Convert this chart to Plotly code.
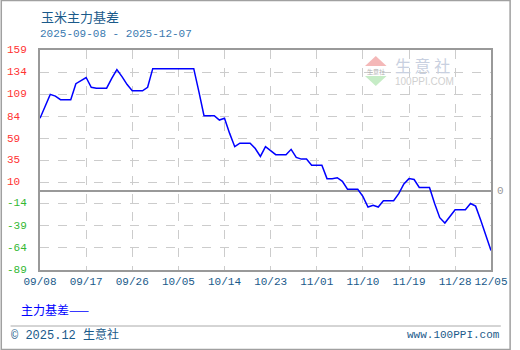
import pandas as pd
import plotly.graph_objects as go

# ---- data ----
start_date = "2025-09-08"
basis = [82, 96, 109, 107, 103, 103, 103, 121, 125, 128,
         117, 116, 116, 116, 127, 137, 129, 120, 113, 113,
         113, 117, 138, 138, 138, 138, 138, 138, 138, 138,
         138, 112, 85, 85, 85, 80, 82, 65, 50, 54,
         54, 54, 48, 39, 50, 46, 41, 41, 41, 47,
         38, 36, 36, 29, 29, 29, 14, 14, 15, 11,
         2, 2, 2, -6, -18, -16, -18, -11, -11, -11,
         -3, 8, 14, 13, 4, 4, 4, -14, -30, -36,
         -28, -21, -21, -21, -14, -17, -33, -50, -67]
y_ticks = [159, 134, 109, 84, 59, 35, 10, -14, -39, -64, -89]
x_tick_dates = ["2025-09-08", "2025-09-17", "2025-09-26", "2025-10-05", "2025-10-14",
                "2025-10-23", "2025-11-01", "2025-11-10", "2025-11-19", "2025-11-28",
                "2025-12-05"]
x_tick_labels = ["09/08", "09/17", "09/26", "10/05", "10/14", "10/23", "11/01",
                 "11/10", "11/19", "11/28", "12/05"]
title_text = "玉米主力基差"
subtitle_text = "2025-09-08 - 2025-12-07"
series_name = "主力基差"

dates = pd.date_range(start_date, periods=len(basis), freq="D")

W, H = 520, 350
L, R, T, B = 40, 20, 50, 80
PW, PH = W - L - R, H - T - B


def px(x):
    return (x - L) / PW


def py(y):
    return (H - B - y) / PH


fig = go.Figure()
fig.add_trace(go.Scatter(x=dates, y=basis, mode="lines",
                         line=dict(color="#0000ff", width=1.5),
                         name=series_name, hoverinfo="x+y"))

teal = "#1a5a8a"
fig.update_layout(
    width=W, height=H,
    margin=dict(l=L, r=R, t=T, b=B),
    paper_bgcolor="white", plot_bgcolor="white",
    showlegend=False,
    font=dict(family="Liberation Sans, Noto Sans CJK SC", size=11, color=teal),
)
fig.update_xaxes(
    range=[x_tick_dates[0], x_tick_dates[-1]],
    tickvals=x_tick_dates, ticktext=x_tick_labels, tickangle=0,
    showgrid=True, gridcolor="#cccccc", griddash="dash", gridwidth=1,
    showline=True, mirror=True, linecolor="#999999", linewidth=1.5,
    ticks="", ticklen=0,
    tickfont=dict(family="Liberation Mono, DejaVu Sans Mono", size=11, color=teal),
)
fig.update_yaxes(
    range=[y_ticks[-1], y_ticks[0]],
    tickvals=y_ticks, showticklabels=False,
    showgrid=True, gridcolor="#cccccc", griddash="dash", gridwidth=1,
    showline=True, mirror=True, linecolor="#999999", linewidth=1.5,
    zeroline=True, zerolinecolor="#999999", zerolinewidth=1.5,
)

ann = []
for v in y_ticks:
    ann.append(dict(x=px(4), xref="paper", y=v, yref="y", text=str(v),
                    xanchor="left", yanchor="middle", showarrow=False,
                    font=dict(family="Liberation Mono, DejaVu Sans Mono", size=11,
                              color="#ff3333" if v >= 0 else "#33b833")))
ann.append(dict(x=px(504), xref="paper", y=0, yref="y", text="0", xanchor="left",
                yanchor="middle", showarrow=False,
                font=dict(family="Liberation Mono", size=11, color="#999999")))
ann.append(dict(x=px(39), xref="paper", y=py(16), yref="paper", text=title_text,
                xanchor="left", yanchor="middle", showarrow=False,
                font=dict(family="Noto Sans CJK SC", size=13, color="#1a5a8a")))
ann.append(dict(x=px(38), xref="paper", y=py(34), yref="paper", text=subtitle_text,
                xanchor="left", yanchor="middle", showarrow=False,
                font=dict(family="Liberation Mono, DejaVu Sans Mono", size=11, color="#3a7ab0")))
ann.append(dict(x=px(19), xref="paper", y=py(309), yref="paper", text=series_name + "——",
                xanchor="left", yanchor="middle", showarrow=False,
                font=dict(family="Noto Sans CJK SC", size=12, color="#0000ff")))
ann.append(dict(x=px(8), xref="paper", y=py(335), yref="paper", text="© 2025.12 生意社",
                xanchor="left", yanchor="middle", showarrow=False,
                font=dict(family="Liberation Mono, Noto Sans CJK SC", size=12, color="#1a5a8a")))
ann.append(dict(x=px(511), xref="paper", y=py(335), yref="paper", text="www.100PPI.com",
                xanchor="right", yanchor="middle", showarrow=False,
                font=dict(family="Liberation Mono, DejaVu Sans Mono", size=11, color="#1a5a8a")))
# watermark
ann.append(dict(x=px(400), xref="paper", y=py(65), yref="paper", text="生 意 社",
                xanchor="left", yanchor="middle", showarrow=False,
                font=dict(family="Noto Sans CJK SC", size=16, color="#c8d0e0")))
ann.append(dict(x=px(400), xref="paper", y=py(81), yref="paper", text="100PPI.COM",
                xanchor="left", yanchor="middle", showarrow=False,
                font=dict(family="Liberation Sans", size=10, color="#d0d0d0")))
ann.append(dict(x=px(382.5), xref="paper", y=py(71), yref="paper", text="生意社",
                xanchor="center", yanchor="middle", showarrow=False,
                font=dict(family="Noto Sans CJK SC", size=6, color="#b0b0b0")))
fig.update_layout(annotations=ann)

shapes = [
    dict(type="rect", xref="paper", yref="paper", x0=px(0.5), x1=px(519.5),
         y0=py(349.5), y1=py(0.5), line=dict(color="#a0a0a0", width=1.5)),
    dict(type="line", xref="paper", yref="paper", x0=px(10), x1=px(510),
         y0=py(326), y1=py(326), line=dict(color="#aaaaaa", width=1)),
    dict(type="path", xref="paper", yref="paper",
         path=f"M {px(371.5)} {py(66)} L {px(393.5)} {py(66)} L {px(382.5)} {py(56)} Z",
         fillcolor="#f4b8b8", line=dict(width=0)),
    dict(type="path", xref="paper", yref="paper",
         path=f"M {px(371.5)} {py(76)} L {px(393.5)} {py(76)} L {px(382.5)} {py(86)} Z",
         fillcolor="#c6ecc6", line=dict(width=0)),
]
fig.update_layout(shapes=shapes)

fig.write_html(
    "out.html",
    config={"displayModeBar": False},
    post_script="document.documentElement.style.margin='0';"
                "document.body.style.margin='0';document.body.style.padding='0';"
                "document.documentElement.style.overflow='hidden';"
                "document.body.style.overflow='hidden';",
)
